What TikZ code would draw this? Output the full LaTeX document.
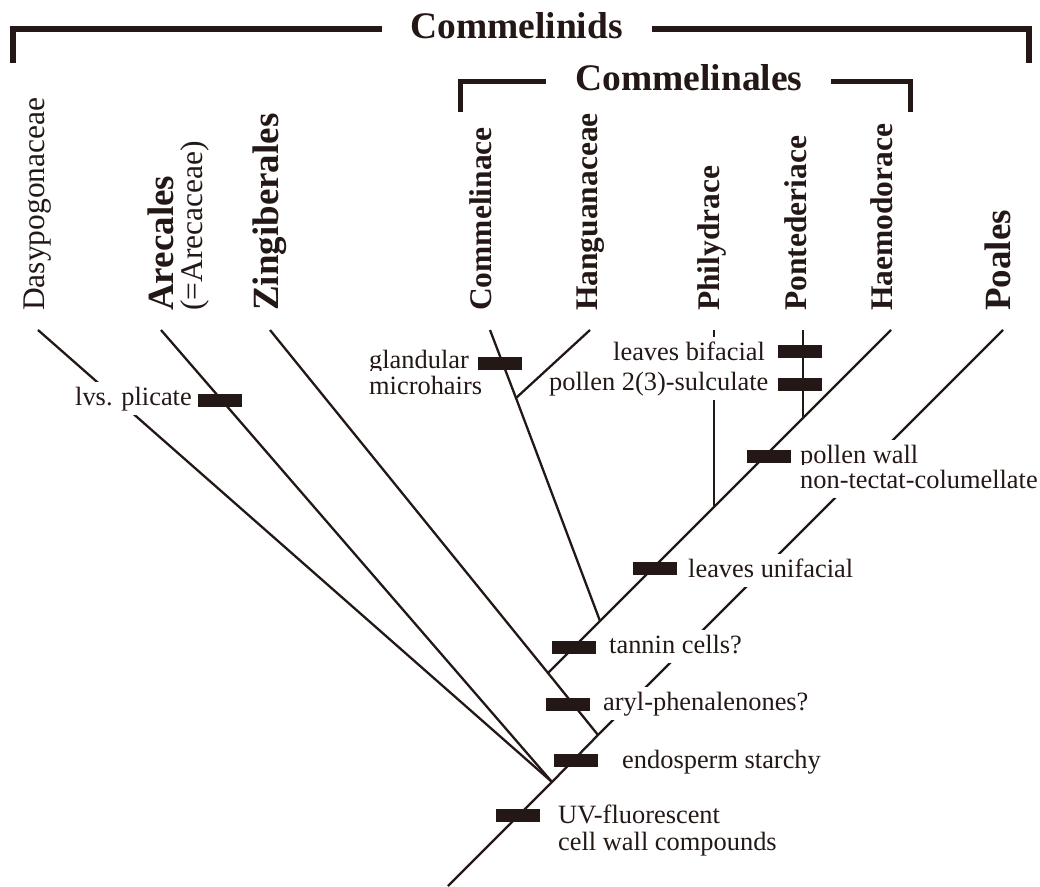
\documentclass[tikz,border=0pt]{standalone}
\usepackage{fontspec}
\setmainfont{Liberation Serif}
\definecolor{ink}{RGB}{35,24,21}
\begin{document}
\begin{tikzpicture}[x=1pt,y=-1pt,
  tree/.style={draw=ink, line width=2.3pt, line cap=butt, line join=miter},
  brk/.style={draw=ink, line width=5.5pt, line cap=butt, line join=miter},
  ttl/.style={font=\fontsize{37.5}{40}\selectfont\bfseries, text=ink, inner sep=0pt, anchor=base},
  ordr/.style={font=\fontsize{37}{40}\selectfont\bfseries, text=ink, rotate=90, anchor=base west, inner sep=0pt},
  fam/.style={font=\fontsize{31.5}{34}\selectfont\bfseries, text=ink, rotate=90, anchor=base west, inner sep=0pt},
  famr/.style={font=\fontsize{31.5}{34}\selectfont, text=ink, rotate=90, anchor=base west, inner sep=0pt},
  ann/.style={font=\fontsize{26.4}{26}\selectfont, text=ink, fill=white, inner xsep=3pt, inner ysep=4pt, text height=19pt, text depth=6pt, anchor=base west},
  bar/.style={fill=ink, draw=none, minimum width=44pt, minimum height=13pt, inner sep=0pt}
]
\useasboundingbox (0,0) rectangle (1040,886);

% titles and brackets
\node[ttl] (commelinids) at (516.5,38) {Commelinids};
\node[ttl] (commelinales) at (689,90) {Commelinales};
\coordinate (b1a) at (13,63);   \coordinate (b1b) at (13,29);   \coordinate (b1c) at (382,29);
\coordinate (b1d) at (652,29);  \coordinate (b1e) at (1029,29); \coordinate (b1f) at (1029,63);
\coordinate (b2a) at (460.5,112); \coordinate (b2b) at (460.5,81.5); \coordinate (b2c) at (546,81.5);
\coordinate (b2d) at (831,81.5);  \coordinate (b2e) at (910.5,81.5); \coordinate (b2f) at (910.5,112);
\draw[brk] (b1a) -- (b1b) -- (b1c);
\draw[brk] (b1d) -- (b1e) -- (b1f);
\draw[brk] (b2a) -- (b2b) -- (b2c);
\draw[brk] (b2d) -- (b2e) -- (b2f);

% taxon labels
\node[famr] (dasy) at (44,311) {Dasypogonaceae};
\node[ordr] (are) at (173,311) {Arecales};
\node[famr] (arec) at (202.5,311) {(=Arecaceae)};
\node[ordr] (zing) at (278,311) {Zingiberales};
\node[fam] (comm) at (491.5,311) {Commelinace};
\node[fam] (hang) at (597,311) {Hanguanaceae};
\node[fam] (phil) at (719,311) {Philydrace};
\node[fam] (pont) at (806,311) {Pontederiace};
\node[fam] (haem) at (892,311) {Haemodorace};
\node[ordr] (poal) at (1010,311) {Poales};

% tips
\coordinate (tDasy) at (38,330);
\coordinate (tAre) at (161,330);
\coordinate (tZing) at (270,330);
\coordinate (tComm) at (490,330);
\coordinate (tHang) at (590,330);
\coordinate (tPhil) at (714,330);
\coordinate (tPont) at (803,330);
\coordinate (tHaem) at (891,330);
\coordinate (tPoal) at (1003,330);
% junctions
\coordinate (base) at (448,886);
\coordinate (root) at (552,782);
\coordinate (jZ) at (598,735);
\coordinate (jC0) at (548,673);
\coordinate (jC1) at (600,621);
\coordinate (jH) at (516,398);
\coordinate (jP) at (714,507);
\coordinate (jN) at (803,418);

% branches partly hidden by labels
\draw[tree] (root) -- (tDasy);
\draw[tree] (jP) -- (tPhil);
\draw[tree] (jZ) -- (tPoal);

% character annotations
\node[ann] (plic) at (72,405) {lvs. plicate};
\node[ann] (glan1) at (366,368) {glandular};
\node[ann] (glan2) at (366,394) {microhairs};
\node[ann] (bifa) at (610,360) {leaves bifacial};
\node[ann] (sulc) at (546,390) {pollen 2(3)-sulculate};
\node[ann] (pwal1) at (797,463) {pollen wall};
\node[ann] (pwal2) at (797,488) {non-tectat-columellate};
\node[ann] (unif) at (685,577) {leaves unifacial};
\node[ann] (tann) at (606,653) {tannin cells?};
\node[ann] (aryl) at (600,710) {aryl-phenalenones?};
\node[ann] (endo) at (619,768) {endosperm starchy};
\node[ann] (uvf1) at (555,823) {UV-fluorescent};
\node[ann] (uvf2) at (555,850) {cell wall compounds};

% remaining branches
\draw[tree] (base) -- (root) -- (jZ);
\draw[tree] (root) -- (tAre);
\draw[tree] (jZ) -- (jC0) -- (tZing);
\draw[tree] (jC0) -- (jC1) -- (jP) -- (jN) -- (tHaem);
\draw[tree] (jC1) -- (jH) -- (tComm);
\draw[tree] (jH) -- (tHang);
\draw[tree] (jN) -- (tPont);

% character bars
\node[bar] (barPlic) at (220,400) {};
\node[bar] (barGlan) at (500,363) {};
\node[bar] (barBifa) at (800,351) {};
\node[bar] (barSulc) at (800,384) {};
\node[bar] (barPwal) at (769,456) {};
\node[bar] (barUnif) at (655,568) {};
\node[bar] (barTann) at (574,647) {};
\node[bar] (barAryl) at (568,704) {};
\node[bar] (barEndo) at (576,760) {};
\node[bar] (barUvf) at (518,815) {};
\end{tikzpicture}
\end{document}
